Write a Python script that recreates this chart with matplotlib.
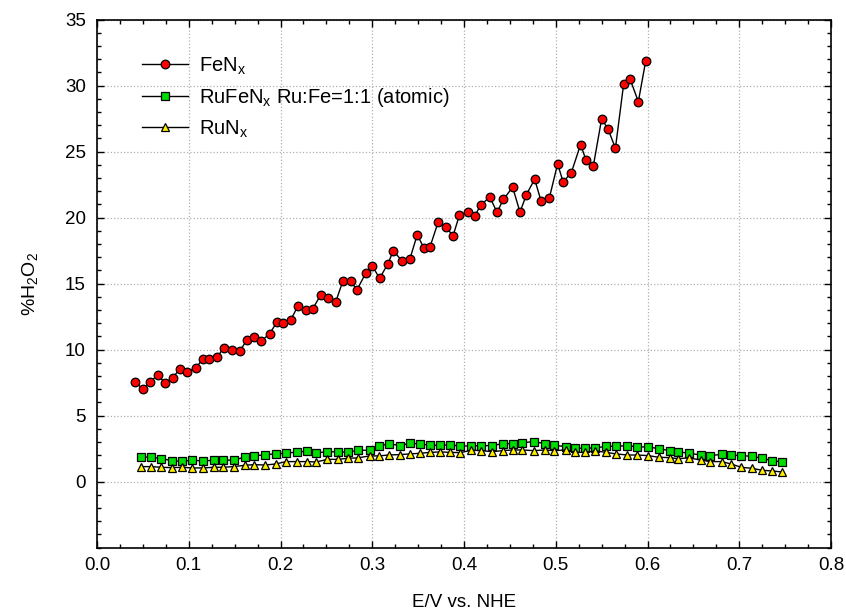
import numpy as np
import matplotlib
matplotlib.use("Agg")
import matplotlib.pyplot as plt
from matplotlib.ticker import MultipleLocator

plt.rcParams['font.family'] = ['Liberation Sans', 'DejaVu Sans']
plt.rcParams['mathtext.default'] = 'regular'

# FeNx
fe_x = [0.041, 0.050, 0.058, 0.066, 0.074, 0.083, 0.090, 0.098, 0.108, 0.115,
        0.122, 0.131, 0.138, 0.147, 0.156, 0.163, 0.171, 0.179, 0.188, 0.196,
        0.203, 0.211, 0.219, 0.228, 0.235, 0.244, 0.252, 0.260, 0.268, 0.277,
        0.283, 0.293, 0.300, 0.308, 0.317, 0.323, 0.332, 0.341, 0.349, 0.356,
        0.363, 0.372, 0.380, 0.388, 0.395, 0.404, 0.412, 0.418, 0.428, 0.436,
        0.443, 0.453, 0.461, 0.468, 0.477, 0.484, 0.493, 0.502, 0.508, 0.517,
        0.527, 0.533, 0.541, 0.550, 0.557, 0.565, 0.574, 0.581, 0.590, 0.598]
fe_y = [7.58, 7.02, 7.58, 8.06, 7.50, 7.88, 8.56, 8.31, 8.64, 9.27,
        9.27, 9.42, 10.15, 9.98, 9.92, 10.71, 10.96, 10.66, 11.19, 12.08,
        12.00, 12.23, 13.31, 13.01, 13.08, 14.17, 13.92, 13.59, 15.20, 15.20,
        14.50, 15.80, 16.34, 15.40, 16.50, 17.50, 16.74, 16.87, 18.70, 17.73,
        17.80, 19.70, 19.32, 18.61, 20.20, 20.43, 20.15, 20.94, 21.55, 20.41,
        21.39, 22.30, 20.41, 21.74, 22.91, 21.24, 21.49, 24.07, 22.70, 23.41,
        25.53, 24.35, 23.94, 27.48, 26.70, 25.25, 30.13, 30.48, 28.78, 31.86]

# RuFeNx and RuNx share the potential grid
ru_x = [0.048, 0.059, 0.070, 0.082, 0.093, 0.104, 0.116, 0.127, 0.137, 0.149,
        0.161, 0.171, 0.183, 0.195, 0.206, 0.218, 0.229, 0.239, 0.251, 0.263,
        0.273, 0.284, 0.297, 0.307, 0.318, 0.330, 0.341, 0.352, 0.363, 0.374,
        0.385, 0.396, 0.408, 0.419, 0.431, 0.442, 0.453, 0.463, 0.476, 0.488,
        0.498, 0.511, 0.521, 0.532, 0.543, 0.555, 0.566, 0.578, 0.589, 0.601,
        0.612, 0.624, 0.633, 0.645, 0.658, 0.668, 0.681, 0.691, 0.702, 0.714,
        0.725, 0.736, 0.747]
rufe_y = [1.85, 1.87, 1.74, 1.59, 1.54, 1.62, 1.57, 1.62, 1.62, 1.64,
          1.85, 1.97, 2.02, 2.12, 2.15, 2.25, 2.30, 2.20, 2.25, 2.27,
          2.22, 2.38, 2.38, 2.68, 2.88, 2.73, 2.91, 2.86, 2.76, 2.76,
          2.78, 2.70, 2.70, 2.73, 2.73, 2.88, 2.88, 2.95, 3.03, 2.88,
          2.76, 2.65, 2.53, 2.53, 2.55, 2.68, 2.68, 2.73, 2.63, 2.63,
          2.50, 2.35, 2.27, 2.15, 2.02, 1.97, 2.07, 2.02, 1.97, 1.92,
          1.77, 1.59, 1.49]
ru_y = [1.14, 1.14, 1.09, 1.06, 1.09, 1.04, 1.04, 1.09, 1.09, 1.14,
        1.24, 1.29, 1.26, 1.34, 1.52, 1.52, 1.52, 1.49, 1.69, 1.69,
        1.77, 1.80, 1.95, 1.95, 2.02, 2.05, 2.10, 2.15, 2.22, 2.25,
        2.22, 2.20, 2.38, 2.35, 2.27, 2.35, 2.40, 2.40, 2.35, 2.40,
        2.35, 2.40, 2.22, 2.22, 2.33, 2.22, 2.10, 2.02, 2.02, 1.97,
        1.85, 1.82, 1.74, 1.80, 1.64, 1.52, 1.52, 1.34, 1.09, 1.01,
        0.86, 0.81, 0.73]

fig = plt.figure(figsize=(8.46, 6.16), dpi=100)
ax = fig.add_axes([0.1147, 0.1109, 0.8676, 0.8574])

ax.plot(fe_x, fe_y, '-', color='black', lw=1.0, marker='o', ms=6.2,
        mfc='#ff0000', mec='black', mew=0.9, label='FeN$_x$')
ax.plot(ru_x, rufe_y, '-', color='black', lw=1.0, marker='s', ms=5.2,
        mfc='#00dd00', mec='black', mew=0.9, label='RuFeN$_x$ Ru:Fe=1:1 (atomic)')
ax.plot(ru_x, ru_y, '-', color='black', lw=1.0, marker='^', ms=5.5,
        mfc='#ffee00', mec='black', mew=0.9, label='RuN$_x$')

ax.set_xlim(0.0, 0.8)
ax.set_ylim(-5, 35)
ax.xaxis.set_major_locator(MultipleLocator(0.1))
ax.xaxis.set_minor_locator(MultipleLocator(0.025))
ax.set_yticks([0, 5, 10, 15, 20, 25, 30, 35])
ax.yaxis.set_minor_locator(MultipleLocator(1))
ax.xaxis.set_major_formatter(plt.FormatStrFormatter('%.1f'))

ax.tick_params(which='both', direction='in', top=True, right=True,
               labelsize=13.5, width=1.0)
ax.tick_params(which='major', length=5)
ax.tick_params(which='minor', length=3)
ax.tick_params(axis='x', which='major', pad=7)
ax.tick_params(axis='y', which='major', pad=8)
for s in ax.spines.values():
    s.set_linewidth(1.2)

ax.grid(True, which='major', linestyle=':', color='#b0b0b0', linewidth=0.9)

ax.set_xlabel('E/V vs. NHE', fontsize=13.5, labelpad=14)
ax.set_ylabel('%H$_2$O$_2$', fontsize=14, labelpad=18)

ax.legend(loc='upper left', frameon=False, fontsize=14.5, handlelength=2.3,
          handletextpad=0.55, labelspacing=0.46, borderpad=0,
          borderaxespad=0, bbox_to_anchor=(0.061, 0.932))

fig.savefig('out.png', dpi=100)
